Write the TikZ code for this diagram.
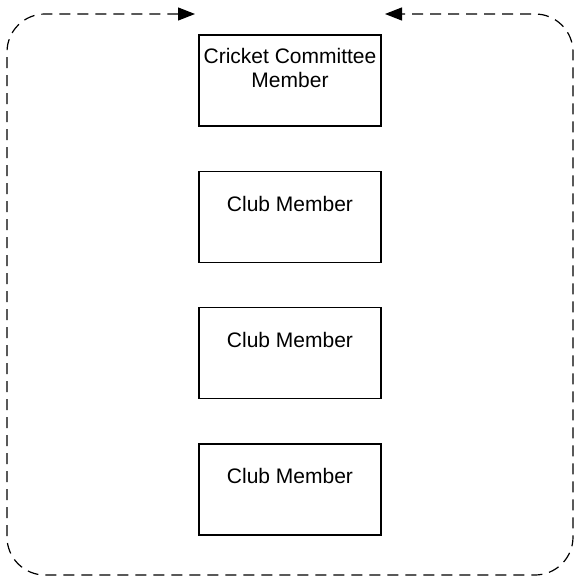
\documentclass[tikz,border=0pt]{standalone}
\usepackage{fontspec}
\setmainfont{Liberation Sans}
\usetikzlibrary{arrows.meta}
\begin{document}
\begin{tikzpicture}[x=1pt,y=-1pt,
  member/.style={draw=black,line width=1.2pt,minimum width=182pt,minimum height=91pt,inner sep=0pt},
  memtext/.style={font=\fontsize{21}{24}\selectfont,align=center,inner sep=0pt},
  loopline/.style={draw=black,line width=1.2pt,dash pattern=on 11pt off 7pt,rounded corners=38pt,
    {Triangle[length=17pt,width=13pt]}-{Triangle[length=17pt,width=13pt]}}]
\useasboundingbox (0,0) rectangle (578,580);
\node[member] (b1) at (290,80.5) {};
\node[member] (b2) at (290,217) {};
\node[member] (b3) at (290,353) {};
\node[member] (b4) at (290,489.5) {};
\node[memtext] (t1) at ([yshift=-34pt]b1.north) {Cricket Committee\\Member};
\node[memtext] (t2) at ([yshift=-33pt]b2.north) {Club Member};
\node[memtext] (t3) at ([yshift=-33pt]b3.north) {Club Member};
\node[memtext] (t4) at ([yshift=-33pt]b4.north) {Club Member};
\coordinate (tipL) at (195,14);
\coordinate (tipR) at (385,14);
\coordinate (cTL) at (7,14);
\coordinate (cBL) at (7,575);
\coordinate (cBR) at (573,575);
\coordinate (cTR) at (573,14);
\draw[loopline] (tipL) -- (cTL) -- (cBL) -- (cBR) -- (cTR) -- (tipR);
\end{tikzpicture}
\end{document}
